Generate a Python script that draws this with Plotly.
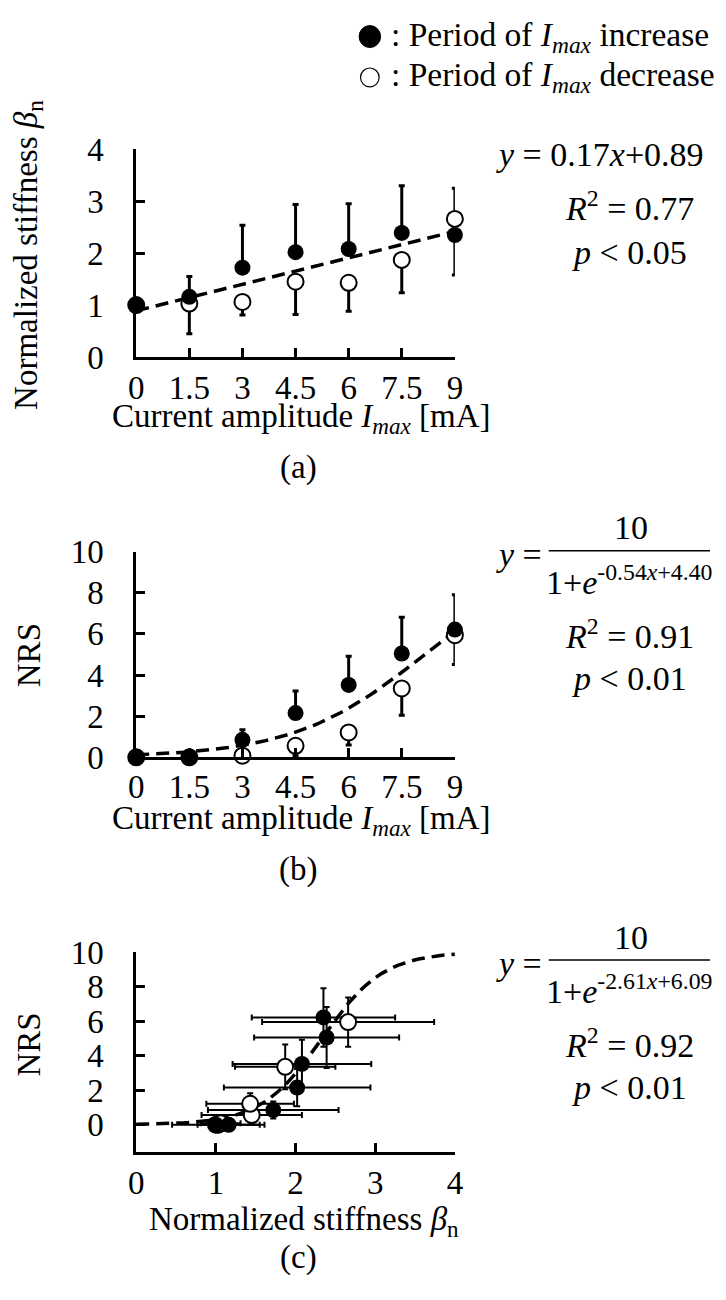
import numpy as np
import plotly.graph_objects as go

# stimulation current amplitude (mA)
current = [0, 1.5, 3, 4.5, 6, 7.5, 9]
current_ticks = ["0", "1.5", "3", "4.5", "6", "7.5", "9"]

# normalized stiffness beta_n (mean, sd)
beta_inc = [1.00, 1.16, 1.72, 2.02, 2.08, 2.39, 2.35]
beta_inc_sd = [0, 0.39, 0.82, 0.92, 0.87, 0.91, 0.90]
beta_dec = [1.00, 1.03, 1.06, 1.45, 1.43, 1.87, 2.66]
beta_dec_sd = [0, 0.58, 0.25, 0.63, 0.55, 0.63, 1.08]

# NRS pain score (mean, sd)
nrs_inc = [0, 0, 0.85, 2.15, 3.52, 5.05, 6.21]
nrs_inc_sd = [0, 0, 0.49, 1.08, 1.40, 1.76, 1.69]
nrs_dec = [0, 0, 0.08, 0.56, 1.21, 3.35, 5.94]
nrs_dec_sd = [0, 0, 0.08, 0.48, 0.61, 1.30, 1.42]

# fitted models shown on the right
lin_a, lin_b = 0.17, 0.89
sig_b = (-0.54, 4.40)
sig_c = (-2.61, 6.09)

# the page adds a margin round the figure and the shot is squeezed to 1300 px,
# so positions below are given in screenshot pixels and converted here
W, H = 710, 1284
LEFT = 8
TOP = 25.1
SY = 0.9736
FONT = "Liberation Serif, Times New Roman, serif"
FS = 33


def px(x):
    return (x - LEFT) / W


def py(y):
    return 1 - (y / SY - TOP) / H


def sigmoid(x, k):
    return 10 / (1 + np.exp(k[0] * x + k[1]))


fig = go.Figure()
dash = dict(color="black", width=3.5, dash="13px,7px")


def add_points(xa, ya, x_inc, y_inc, x_dec, y_dec, ey_inc, ey_dec, ex_inc=None, ex_dec=None, two_sided=False):
    if two_sided:
        e_inc = dict(type="data", array=ey_inc, color="black", thickness=2, width=3)
        e_dec = dict(type="data", array=ey_dec, color="black", thickness=2, width=3)
        exi = dict(type="data", array=ex_inc, color="black", thickness=2, width=3)
        exd = dict(type="data", array=ex_dec, color="black", thickness=2, width=3)
    else:
        # filled points: bar upwards, open points: bar downwards
        e_inc = dict(type="data", symmetric=False, array=ey_inc, arrayminus=[0] * len(ey_inc),
                     color="black", thickness=3, width=3)
        e_dec = dict(type="data", symmetric=False, array=[0] * len(ey_dec), arrayminus=ey_dec,
                     color="black", thickness=3, width=3)
        exi = exd = None
    # error bars of filled points go below the open markers
    fig.add_trace(go.Scatter(x=x_inc, y=y_inc, mode="markers", xaxis=xa, yaxis=ya,
                             marker=dict(size=16, color="rgba(0,0,0,0)"),
                             error_y=e_inc, error_x=exi, cliponaxis=False))
    fig.add_trace(go.Scatter(x=x_dec, y=y_dec, mode="markers", xaxis=xa, yaxis=ya,
                             marker=dict(size=16, color="white", line=dict(color="black", width=2)),
                             error_y=e_dec, error_x=exd, cliponaxis=False))
    fig.add_trace(go.Scatter(x=x_inc, y=y_inc, mode="markers", xaxis=xa, yaxis=ya,
                             marker=dict(size=16, color="black"), cliponaxis=False))


# (a) stiffness vs current
fig.add_trace(go.Scatter(x=[current[0], current[-1]],
                         y=[lin_a * current[0] + lin_b, lin_a * current[-1] + lin_b],
                         mode="lines", line=dash, xaxis="x", yaxis="y", cliponaxis=False))
add_points("x", "y", current, beta_inc, current, beta_dec, beta_inc_sd, beta_dec_sd)

# (b) NRS vs current
xb = np.linspace(0, 9, 60)
fig.add_trace(go.Scatter(x=xb, y=sigmoid(xb, sig_b), mode="lines", line=dash,
                         xaxis="x2", yaxis="y2", cliponaxis=False))
add_points("x2", "y2", current, nrs_inc, current, nrs_dec, nrs_inc_sd, nrs_dec_sd)

# (c) NRS vs stiffness
xc = np.linspace(0, 4, 80)
fig.add_trace(go.Scatter(x=xc, y=sigmoid(xc, sig_c), mode="lines", line=dash,
                         xaxis="x3", yaxis="y3", cliponaxis=False))
add_points("x3", "y3", beta_inc, nrs_inc, beta_dec, nrs_dec, nrs_inc_sd, nrs_dec_sd,
           beta_inc_sd, beta_dec_sd, two_sided=True)

ax = dict(showline=True, linecolor="black", linewidth=3, ticks="inside", ticklen=9,
          tickwidth=3, tickcolor="black", showgrid=False, zeroline=False,
          tickfont=dict(family=FONT, size=FS, color="black"))
xdom = [px(131), px(457)]

fig.update_layout(
    width=W, height=H, margin=dict(l=0, r=0, t=0, b=0),
    paper_bgcolor="white", plot_bgcolor="white", showlegend=False,
    xaxis=dict(ax, domain=xdom, range=[0, 9], tickvals=current, ticktext=current_ticks,
               anchor="y", ticklabelstandoff=-1),
    yaxis=dict(ax, domain=[py(357), py(149)], range=[0, 4], dtick=1, anchor="x",
               ticklabelstandoff=23),
    xaxis2=dict(ax, domain=xdom, range=[0, 9], tickvals=current, ticktext=current_ticks,
                anchor="y2", ticklabelstandoff=-2),
    yaxis2=dict(ax, domain=[py(758), py(552)], range=[0, 10], dtick=2, anchor="x2",
                ticklabelstandoff=23),
    xaxis3=dict(ax, domain=xdom, range=[0, 4], dtick=1, anchor="y3", ticklabelstandoff=0),
    yaxis3=dict(ax, domain=[py(1153), py(953)], range=[-1.56, 10], tickvals=[0, 2, 4, 6, 8, 10],
                anchor="x3", ticklabelstandoff=23),
)

I_max = "<i>I</i><sub><i>max</i></sub>"
beta_n = "<i>β</i><sub>n</sub>"


def note(text, x, y, angle=0, xanchor="center", size=FS):
    fig.add_annotation(text=text, x=px(x), y=py(y), xref="paper", yref="paper",
                       showarrow=False, textangle=angle, xanchor=xanchor, yanchor="middle",
                       font=dict(family=FONT, size=size, color="black"))


# axis titles and panel labels
note("Normalized stiffness " + beta_n, 20, 255, angle=-90)
note("Current amplitude " + I_max + " [mA]", 300, 419)
note("(a)", 297, 468)
note("NRS", 21, 656, angle=-90)
note("Current amplitude " + I_max + " [mA]", 300, 821)
note("(b)", 297, 870)
note("NRS", 21, 1046, angle=-90)
note("Normalized stiffness " + beta_n, 303, 1223)
note("(c)", 297, 1259)

# legend
for yc, fill, r, lw in [(36, "black", 11, 1), (77, "white", 9.5, 1.2)]:
    fig.add_shape(type="circle", xref="paper", yref="paper", x0=px(370 - r), x1=px(370 + r),
                  y0=py(yc + r), y1=py(yc - r), fillcolor=fill, line=dict(color="black", width=lw))
note(": Period of " + I_max + " increase", 390, 36, xanchor="left", size=33.5)
note(": Period of " + I_max + " decrease", 390, 77, xanchor="left", size=33.5)

# fit statistics
note("<i>y</i> = 0.17<i>x</i>+0.89", 497, 154, xanchor="left", size=34)
note("<i>R</i><sup>2</sup> = 0.77", 636, 206, size=34)
note("<i>p</i> < 0.05", 636, 252, size=34)

for y0, k, r2 in [(528, sig_b, "0.91"), (938, sig_c, "0.92")]:
    note("<i>y</i> =", 497, y0 + 27, xanchor="left", size=34)
    note("10", 637, y0, size=34)
    fig.add_shape(type="line", xref="paper", yref="paper", x0=px(553), x1=px(718),
                  y0=py(y0 + 23), y1=py(y0 + 23), line=dict(color="black", width=1.5))
    note("1+<i>e</i><sup>%.2f<i>x</i>+%.2f</sup>" % (k[0], k[1]), 636, y0 + 52, size=34)
    note("<i>R</i><sup>2</sup> = " + r2, 636, y0 + 106, size=34)
    note("<i>p</i> < 0.01", 636, y0 + 151, size=34)

fig.write_html("out.html")
